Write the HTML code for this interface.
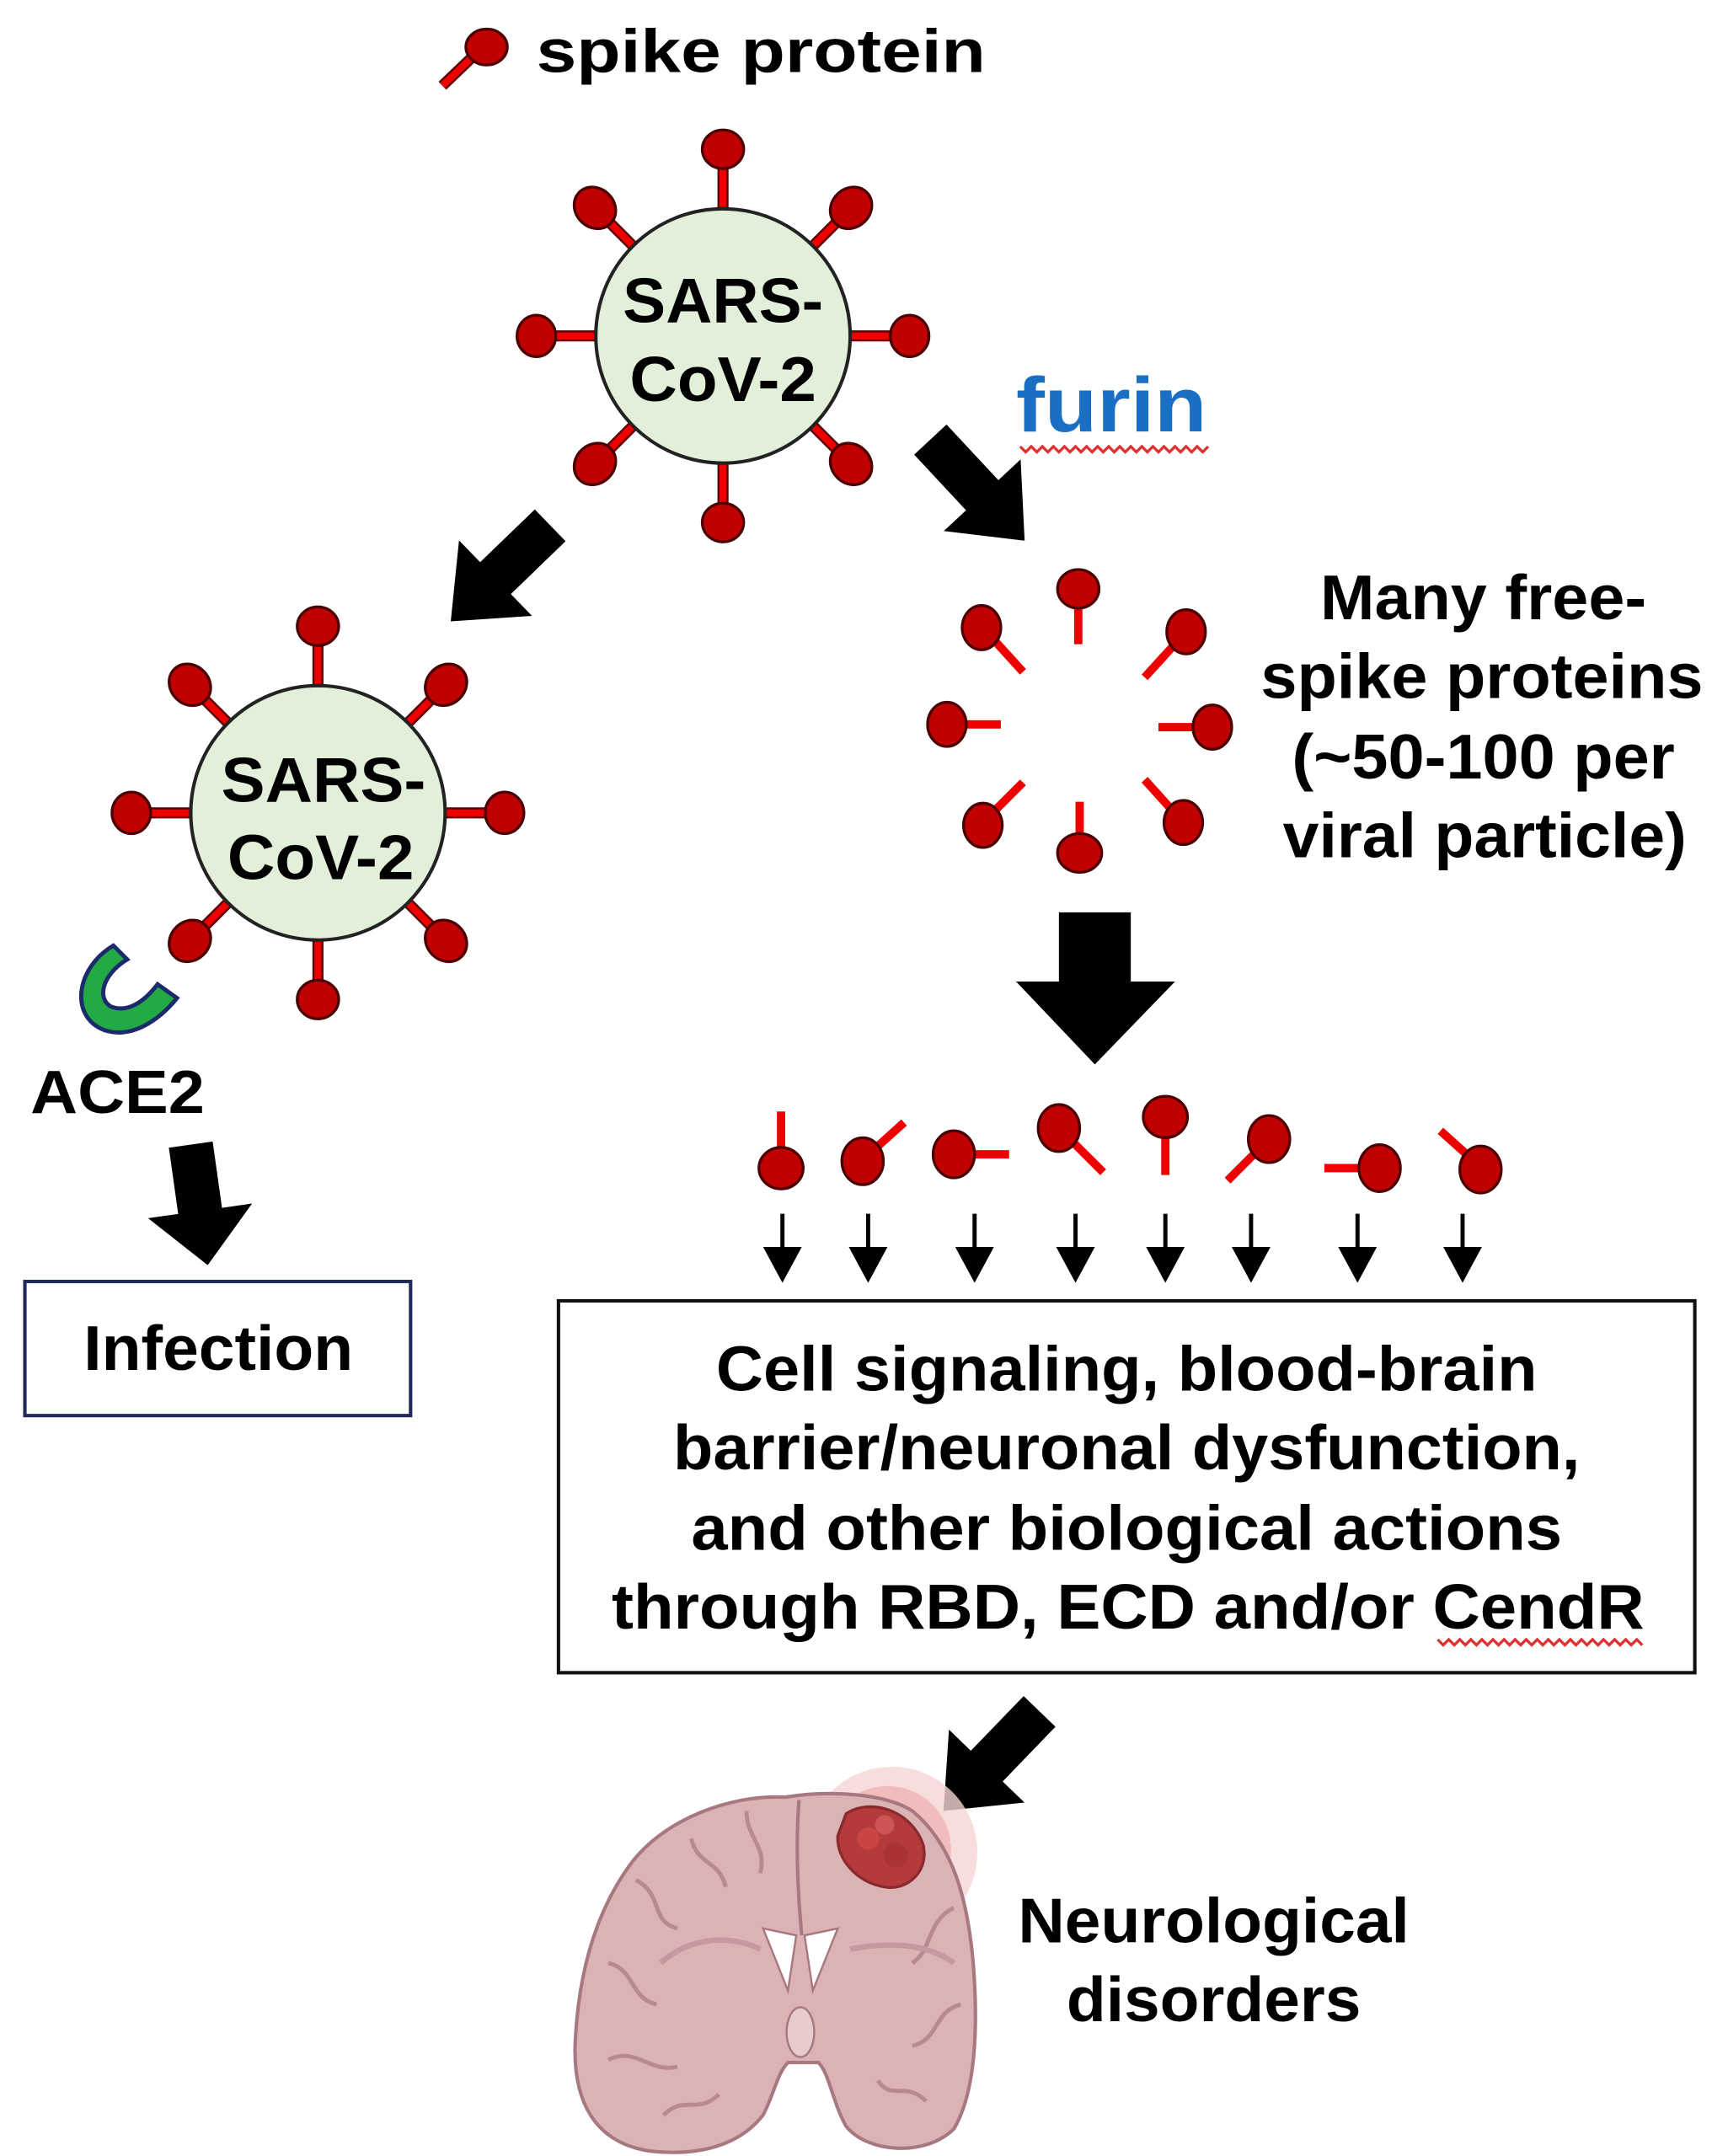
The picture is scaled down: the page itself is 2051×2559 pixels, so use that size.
<!DOCTYPE html>
<html><head><meta charset="utf-8"><style>
html,body{margin:0;padding:0;background:#fff}
svg{display:block}
text{font-family:"Liberation Sans",Arial,sans-serif;font-weight:bold;fill:#000}
</style></head><body>
<svg width="2051" height="2559" viewBox="0 0 1250 1559.6" preserveAspectRatio="none" xmlns="http://www.w3.org/2000/svg">
<defs>
<g id="arr"><polygon points="0,-16 55,-16 55,-38 100,0 55,38 55,16 0,16" fill="#000"/></g>
</defs>
<rect width="1250" height="1560" fill="#fff"/>

<!-- legend -->
<line x1="320" y1="62" x2="343" y2="40" stroke="#5a0000" stroke-width="8"/>
<line x1="320" y1="62" x2="343" y2="40" stroke="#e00" stroke-width="5"/>
<ellipse cx="352" cy="34" rx="15" ry="13" fill="#c00000" stroke="#4a0000" stroke-width="2"/>
<text x="388" y="52" font-size="44" textLength="325" lengthAdjust="spacingAndGlyphs">spike protein</text>

<!-- virus 1 -->
<g transform="translate(523,243)">
<g id="spikes">
<g><line x1="0" y1="-88" x2="0" y2="-122" stroke="#5a0000" stroke-width="8"/><line x1="0" y1="-88" x2="0" y2="-122" stroke="#e00" stroke-width="5"/><ellipse cx="0" cy="-135" rx="15" ry="14" fill="#c00000" stroke="#4a0000" stroke-width="2"/></g>
<g transform="rotate(45)"><line x1="0" y1="-88" x2="0" y2="-118" stroke="#5a0000" stroke-width="8"/><line x1="0" y1="-88" x2="0" y2="-118" stroke="#e00" stroke-width="5"/><ellipse cx="0" cy="-131" rx="14" ry="16" fill="#c00000" stroke="#4a0000" stroke-width="2"/></g>
<g transform="rotate(90)"><line x1="0" y1="-88" x2="0" y2="-122" stroke="#5a0000" stroke-width="8"/><line x1="0" y1="-88" x2="0" y2="-122" stroke="#e00" stroke-width="5"/><ellipse cx="0" cy="-135" rx="15" ry="14" fill="#c00000" stroke="#4a0000" stroke-width="2"/></g>
<g transform="rotate(135)"><line x1="0" y1="-88" x2="0" y2="-118" stroke="#5a0000" stroke-width="8"/><line x1="0" y1="-88" x2="0" y2="-118" stroke="#e00" stroke-width="5"/><ellipse cx="0" cy="-131" rx="14" ry="16" fill="#c00000" stroke="#4a0000" stroke-width="2"/></g>
<g transform="rotate(180)"><line x1="0" y1="-88" x2="0" y2="-122" stroke="#5a0000" stroke-width="8"/><line x1="0" y1="-88" x2="0" y2="-122" stroke="#e00" stroke-width="5"/><ellipse cx="0" cy="-135" rx="15" ry="14" fill="#c00000" stroke="#4a0000" stroke-width="2"/></g>
<g transform="rotate(225)"><line x1="0" y1="-88" x2="0" y2="-118" stroke="#5a0000" stroke-width="8"/><line x1="0" y1="-88" x2="0" y2="-118" stroke="#e00" stroke-width="5"/><ellipse cx="0" cy="-131" rx="14" ry="16" fill="#c00000" stroke="#4a0000" stroke-width="2"/></g>
<g transform="rotate(270)"><line x1="0" y1="-88" x2="0" y2="-122" stroke="#5a0000" stroke-width="8"/><line x1="0" y1="-88" x2="0" y2="-122" stroke="#e00" stroke-width="5"/><ellipse cx="0" cy="-135" rx="15" ry="14" fill="#c00000" stroke="#4a0000" stroke-width="2"/></g>
<g transform="rotate(315)"><line x1="0" y1="-88" x2="0" y2="-118" stroke="#5a0000" stroke-width="8"/><line x1="0" y1="-88" x2="0" y2="-118" stroke="#e00" stroke-width="5"/><ellipse cx="0" cy="-131" rx="14" ry="16" fill="#c00000" stroke="#4a0000" stroke-width="2"/></g>
</g>
<circle r="92" fill="#e2efd9" stroke="#222" stroke-width="2.5"/>
<text x="0" y="-10" font-size="46" text-anchor="middle" textLength="145" lengthAdjust="spacingAndGlyphs">SARS-</text>
<text x="0" y="47" font-size="46" text-anchor="middle" textLength="135" lengthAdjust="spacingAndGlyphs">CoV-2</text>
</g>

<!-- furin -->
<text x="735" y="312" font-size="56" style="fill:#1a6fc4" textLength="138" lengthAdjust="spacingAndGlyphs">furin</text>
<polyline points="738,323 742,327 746,323 750,327 754,323 758,327 762,323 766,327 770,323 774,327 778,323 782,327 786,323 790,327 794,323 798,327 802,323 806,327 810,323 814,327 818,323 822,327 826,323 830,327 834,323 838,327 842,323 846,327 850,323 854,327 858,323 862,327 866,323 870,327 874,323" fill="none" stroke="#e03030" stroke-width="2"/>

<!-- arrows -->
<use href="#arr" transform="translate(673,318) rotate(47)"/>
<use href="#arr" transform="translate(398,380) rotate(136)"/>
<use href="#arr" transform="translate(138,828) rotate(82) scale(0.88,1)"/>
<use href="#arr" transform="translate(752,1238) rotate(134)"/>
<!-- big down arrow -->
<polygon points="766,660 818,660 818,710 850,710 792,770 735,710 766,710" fill="#000"/>

<!-- virus 2 -->
<g transform="translate(230,588)">
<use href="#spikes"/>
<circle r="92" fill="#e2efd9" stroke="#222" stroke-width="2.5"/>
<text x="4" y="-8" font-size="46" text-anchor="middle" textLength="148" lengthAdjust="spacingAndGlyphs">SARS-</text>
<text x="2" y="48" font-size="46" text-anchor="middle" textLength="135" lengthAdjust="spacingAndGlyphs">CoV-2</text>
</g>

<!-- ACE2 -->
<path d="M82,684 C55,700 50,735 75,745 C95,752 115,738 128,722 L114,712 C104,725 92,733 80,728 C70,722 74,705 92,694 Z" fill="#22aa44" stroke="#1a2a6a" stroke-width="3"/>
<text x="22" y="805" font-size="44" textLength="126" lengthAdjust="spacingAndGlyphs">ACE2</text>

<!-- infection box -->
<rect x="18" y="927" width="279" height="97" fill="#fff" stroke="#1f2a5a" stroke-width="2.5"/>
<text x="158" y="991" font-size="46" text-anchor="middle" textLength="195" lengthAdjust="spacingAndGlyphs">Infection</text>

<!-- free spikes ring -->
<g stroke-linecap="butt">
<g><line x1="780" y1="440" x2="780" y2="466" stroke="#e00" stroke-width="6"/><ellipse cx="780" cy="426" rx="15" ry="14" fill="#c00000" stroke="#4a0000" stroke-width="2"/></g>
<g><line x1="720" y1="464" x2="740" y2="486" stroke="#e00" stroke-width="6"/><ellipse cx="710" cy="454" rx="14" ry="16" fill="#c00000" stroke="#4a0000" stroke-width="2"/></g>
<g><line x1="848" y1="468" x2="828" y2="490" stroke="#e00" stroke-width="6"/><ellipse cx="858" cy="457" rx="14" ry="16" fill="#c00000" stroke="#4a0000" stroke-width="2"/></g>
<g><line x1="698" y1="524" x2="724" y2="524" stroke="#e00" stroke-width="6"/><ellipse cx="685" cy="524" rx="14" ry="16" fill="#c00000" stroke="#4a0000" stroke-width="2"/></g>
<g><line x1="838" y1="526" x2="864" y2="526" stroke="#e00" stroke-width="6"/><ellipse cx="877" cy="526" rx="14" ry="16" fill="#c00000" stroke="#4a0000" stroke-width="2"/></g>
<g><line x1="720" y1="586" x2="740" y2="566" stroke="#e00" stroke-width="6"/><ellipse cx="711" cy="597" rx="14" ry="16" fill="#c00000" stroke="#4a0000" stroke-width="2"/></g>
<g><line x1="846" y1="584" x2="828" y2="564" stroke="#e00" stroke-width="6"/><ellipse cx="856" cy="595" rx="14" ry="16" fill="#c00000" stroke="#4a0000" stroke-width="2"/></g>
<g><line x1="781" y1="580" x2="781" y2="604" stroke="#e00" stroke-width="6"/><ellipse cx="781" cy="617" rx="16" ry="14" fill="#c00000" stroke="#4a0000" stroke-width="2"/></g>
</g>
<text x="1073" y="448" font-size="46" text-anchor="middle" textLength="236" lengthAdjust="spacingAndGlyphs">Many free-</text>
<text x="1072" y="505" font-size="46" text-anchor="middle" textLength="320" lengthAdjust="spacingAndGlyphs">spike proteins</text>
<text x="1073" y="563" font-size="46" text-anchor="middle" textLength="277" lengthAdjust="spacingAndGlyphs">(~50-100 per</text>
<text x="1074" y="620" font-size="46" text-anchor="middle" textLength="292" lengthAdjust="spacingAndGlyphs">viral particle)</text>

<!-- row spikes -->
<g>
<line x1="565" y1="830" x2="565" y2="804" stroke="#e00" stroke-width="6"/><ellipse cx="565" cy="845" rx="16" ry="15" fill="#c00000" stroke="#4a0000" stroke-width="2"/>
<line x1="634" y1="830" x2="654" y2="812" stroke="#e00" stroke-width="6"/><ellipse cx="624" cy="840" rx="15" ry="17" fill="#c00000" stroke="#4a0000" stroke-width="2"/>
<line x1="704" y1="835" x2="730" y2="835" stroke="#e00" stroke-width="6"/><ellipse cx="690" cy="835" rx="15" ry="17" fill="#c00000" stroke="#4a0000" stroke-width="2"/>
<line x1="776" y1="826" x2="798" y2="848" stroke="#e00" stroke-width="6"/><ellipse cx="766" cy="816" rx="15" ry="17" fill="#c00000" stroke="#4a0000" stroke-width="2"/>
<line x1="843" y1="822" x2="843" y2="850" stroke="#e00" stroke-width="6"/><ellipse cx="843" cy="808" rx="16" ry="15" fill="#c00000" stroke="#4a0000" stroke-width="2"/>
<line x1="908" y1="834" x2="888" y2="854" stroke="#e00" stroke-width="6"/><ellipse cx="918" cy="824" rx="15" ry="17" fill="#c00000" stroke="#4a0000" stroke-width="2"/>
<line x1="984" y1="845" x2="958" y2="845" stroke="#e00" stroke-width="6"/><ellipse cx="998" cy="845" rx="15" ry="17" fill="#c00000" stroke="#4a0000" stroke-width="2"/>
<line x1="1062" y1="836" x2="1042" y2="818" stroke="#e00" stroke-width="6"/><ellipse cx="1071" cy="846" rx="15" ry="17" fill="#c00000" stroke="#4a0000" stroke-width="2"/>
</g>
<!-- small arrows -->
<g fill="#000" stroke="#000">
<line x1="566" y1="878" x2="566" y2="905" stroke-width="3"/><polygon points="552,902 580,902 566,928" stroke="none"/>
<line x1="628" y1="878" x2="628" y2="905" stroke-width="3"/><polygon points="614,902 642,902 628,928" stroke="none"/>
<line x1="705" y1="878" x2="705" y2="905" stroke-width="3"/><polygon points="691,902 719,902 705,928" stroke="none"/>
<line x1="778" y1="878" x2="778" y2="905" stroke-width="3"/><polygon points="764,902 792,902 778,928" stroke="none"/>
<line x1="843" y1="878" x2="843" y2="905" stroke-width="3"/><polygon points="829,902 857,902 843,928" stroke="none"/>
<line x1="905" y1="878" x2="905" y2="905" stroke-width="3"/><polygon points="891,902 919,902 905,928" stroke="none"/>
<line x1="982" y1="878" x2="982" y2="905" stroke-width="3"/><polygon points="968,902 996,902 982,928" stroke="none"/>
<line x1="1058" y1="878" x2="1058" y2="905" stroke-width="3"/><polygon points="1044,902 1072,902 1058,928" stroke="none"/>
</g>

<!-- main box -->
<rect x="404" y="941" width="822" height="269" fill="#fff" stroke="#111" stroke-width="2.5"/>
<text x="815" y="1006" font-size="46" text-anchor="middle" textLength="594" lengthAdjust="spacingAndGlyphs">Cell signaling, blood-brain</text>
<text x="815" y="1063" font-size="46" text-anchor="middle" textLength="656" lengthAdjust="spacingAndGlyphs">barrier/neuronal dysfunction,</text>
<text x="815" y="1121" font-size="46" text-anchor="middle" textLength="630" lengthAdjust="spacingAndGlyphs">and other biological actions</text>
<text x="816" y="1178" font-size="46" text-anchor="middle" textLength="747" lengthAdjust="spacingAndGlyphs">through RBD, ECD and/or CendR</text>
<polyline points="1040,1186 1044,1190 1048,1186 1052,1190 1056,1186 1060,1190 1064,1186 1068,1190 1072,1186 1076,1190 1080,1186 1084,1190 1088,1186 1092,1190 1096,1186 1100,1190 1104,1186 1108,1190 1112,1186 1116,1190 1120,1186 1124,1190 1128,1186 1132,1190 1136,1186 1140,1190 1144,1186 1148,1190 1152,1186 1156,1190 1160,1186 1164,1190 1168,1186 1172,1190 1176,1186 1180,1190 1184,1186 1188,1190" fill="none" stroke="#e03030" stroke-width="2"/>

<!-- brain -->
<circle cx="645" cy="1340" r="62" fill="#f6d4d4" opacity="0.8"/>
<circle cx="642" cy="1338" r="46" fill="#eeb4b4" opacity="0.8"/>
<path d="M568,1300 C530,1298 480,1315 455,1350 C430,1385 418,1430 416,1480 C415,1520 430,1550 470,1556 C505,1560 535,1552 552,1530 C560,1515 562,1500 570,1492 L592,1492 C600,1500 602,1520 612,1538 C628,1558 670,1560 690,1540 C705,1515 708,1470 704,1420 C700,1375 690,1335 660,1310 C640,1297 600,1295 568,1300 Z" fill="#dcb3b5" stroke="#a87880" stroke-width="2.5"/>
<path d="M578,1302 C575,1340 578,1380 580,1400" fill="none" stroke="#a87880" stroke-width="2.5"/>
<path d="M460,1360 C480,1370 470,1390 490,1395 M440,1420 C460,1425 455,1445 475,1450 M440,1490 C460,1480 470,1500 490,1495 M500,1330 C505,1350 520,1345 525,1365 M540,1310 C540,1330 555,1335 550,1355 M690,1380 C670,1390 675,1410 660,1420 M695,1450 C675,1455 680,1475 660,1480 M670,1520 C655,1505 645,1520 635,1505 M480,1530 C495,1515 505,1530 520,1515" fill="none" stroke="#b88a90" stroke-width="3"/>
<path d="M478,1420 C500,1400 530,1400 550,1410 M690,1420 C670,1405 640,1405 615,1410" fill="none" stroke="#c49aa0" stroke-width="4"/>
<polygon points="552,1395 576,1400 570,1440" fill="#fff" stroke="#a87880" stroke-width="1.5"/>
<polygon points="606,1395 582,1400 588,1440" fill="#fff" stroke="#a87880" stroke-width="1.5"/>
<ellipse cx="579" cy="1470" rx="10" ry="18" fill="#e8cccd" stroke="#a87880" stroke-width="1.5"/>
<path d="M612,1312 C630,1300 660,1310 668,1335 C672,1355 655,1368 640,1365 C620,1362 605,1345 606,1328 Z" fill="#b53a3c" stroke="#8a2a2c" stroke-width="2"/>
<circle cx="628" cy="1330" r="8" fill="#c44"/><circle cx="648" cy="1342" r="9" fill="#a33"/><circle cx="640" cy="1320" r="7" fill="#c55"/>

<text x="878" y="1405" font-size="46" text-anchor="middle" textLength="283" lengthAdjust="spacingAndGlyphs">Neurological</text>
<text x="878" y="1462" font-size="46" text-anchor="middle" textLength="213" lengthAdjust="spacingAndGlyphs">disorders</text>
</svg>
</body></html>
